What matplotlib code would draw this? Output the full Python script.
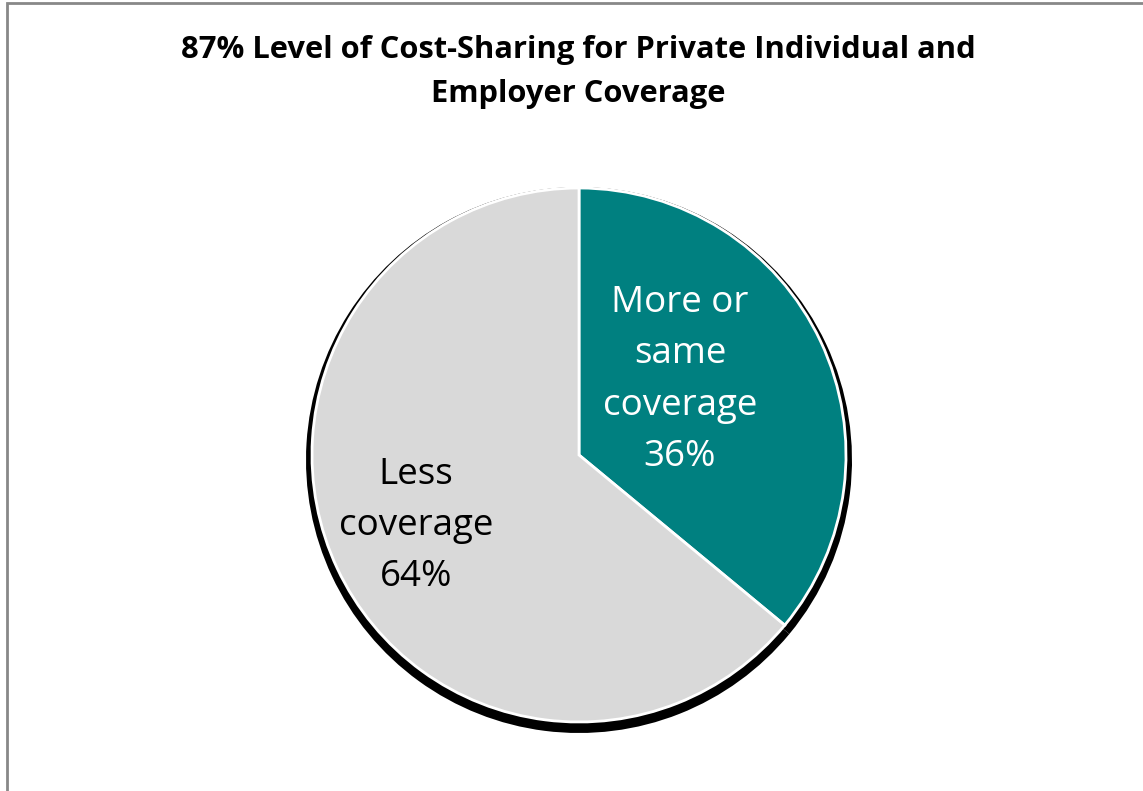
import matplotlib
matplotlib.use("Agg")
import matplotlib.pyplot as plt
from matplotlib.patches import Rectangle

title = "87% Level of Cost-Sharing for Private Individual and\nEmployer Coverage"
labels = ["More or\nsame\ncoverage\n36%", "Less\ncoverage\n64%"]
values = [36, 64]
colors = ["#008080", "#D9D9D9"]
label_colors = ["white", "black"]

W, H = 1143, 791
fig = plt.figure(figsize=(W / 100, H / 100), dpi=100)
ax = fig.add_axes([0, 0, 1, 1])


def Y(y):
    return H - y


cx, cy, r = 579, 455, 267

# shadow
ax.pie(values, startangle=90, counterclock=False, radius=r + 6,
       center=(cx, Y(cy + 5)), colors=["black", "black"],
       wedgeprops=dict(linewidth=0), frame=True)
wedges, _ = ax.pie(values, startangle=90, counterclock=False, radius=r,
                   center=(cx, Y(cy)), colors=colors,
                   wedgeprops=dict(edgecolor="white", linewidth=2), frame=True)
ax.set_xlim(0, W)
ax.set_ylim(0, H)
ax.set_aspect("equal")
ax.axis("off")

ax.text(680, Y(380), labels[0], ha="center", va="center", color=label_colors[0],
        fontsize=26.5, family="Open Sans", linespacing=1.56)
ax.text(416, Y(526), labels[1], ha="center", va="center", color=label_colors[1],
        fontsize=26.5, family="Open Sans", linespacing=1.56)

ax.text(578, Y(72), title, ha="center", va="center", fontsize=22.2,
        fontweight="bold", family="Open Sans", linespacing=1.62)

ax.add_patch(Rectangle((7, -20), W + 10, Y(3) + 20, fill=False, edgecolor="#888888",
                       linewidth=2, clip_on=False))

fig.savefig("out.png", dpi=100)
